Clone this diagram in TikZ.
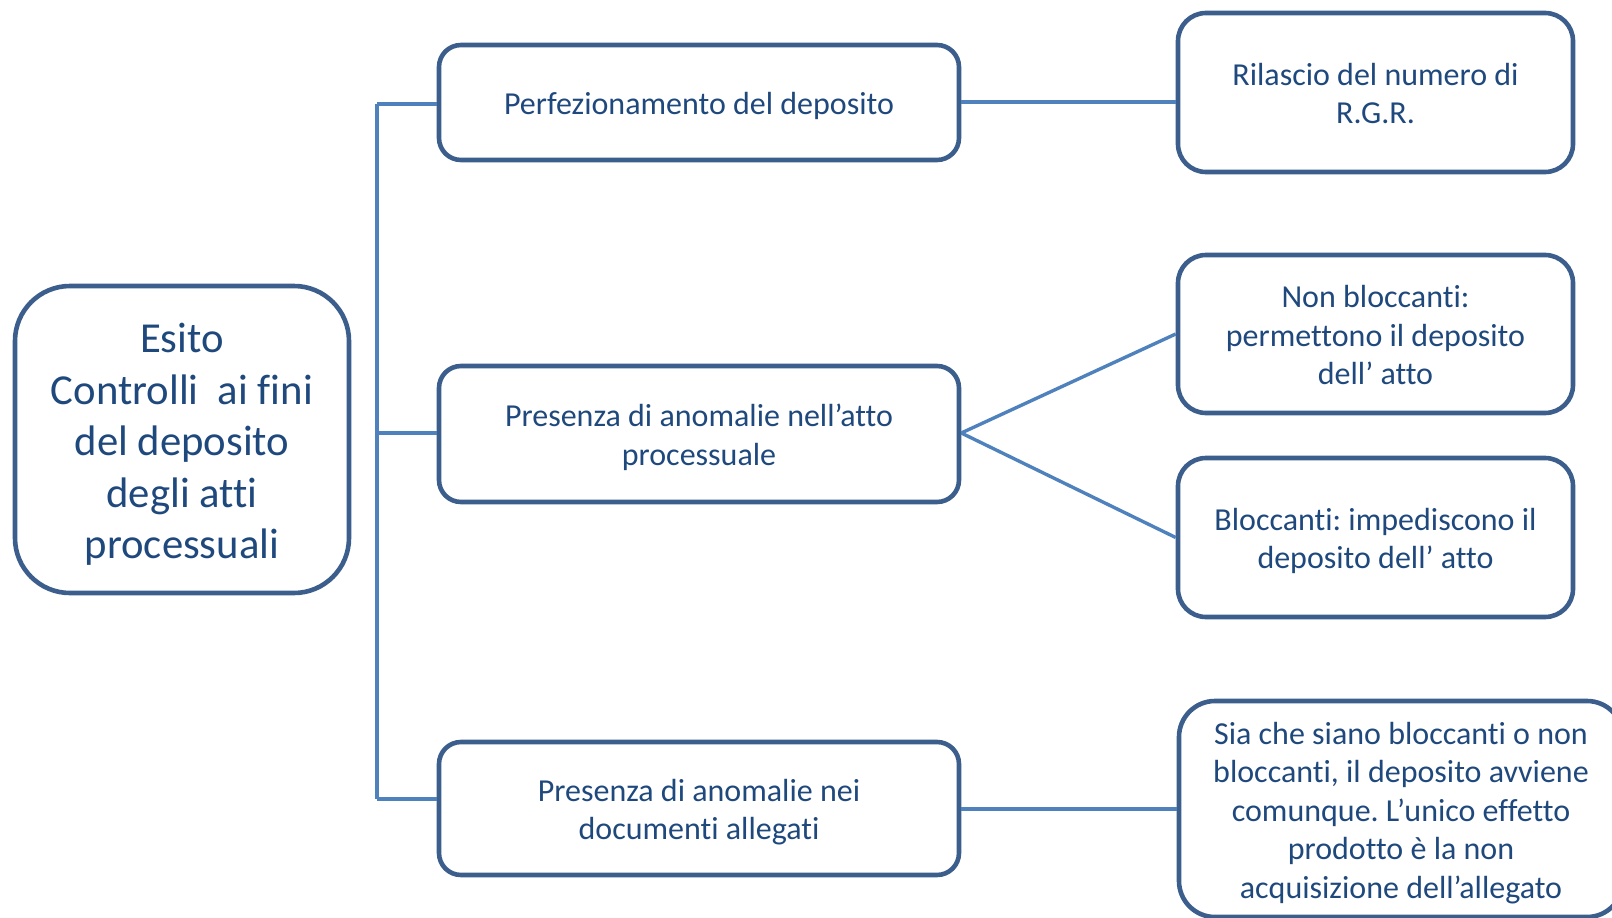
\documentclass[tikz,border=0pt]{standalone}
\usepackage{fontspec}
\setmainfont{Carlito}[Ligatures={NoCommon}]
\usetikzlibrary{calc}
\frenchspacing

\definecolor{boxline}{HTML}{3B5E8C}
\definecolor{linkline}{HTML}{4F81BD}
\definecolor{boxtext}{HTML}{1F497D}

% centred block of lines, each line with the same fixed height,
% set a little low in its box as slide text usually is
\newcommand{\boxlines}[1]{\raisebox{-0.14em}[\height][\depth]{\begin{tabular}{@{}c@{}}#1\end{tabular}}}

\tikzset{
  box/.style={draw=boxline, line width=4.6pt, fill=white, rounded corners=#1,
    text=boxtext, inner sep=0pt,
    font=\fontsize{32}{38.5}\selectfont},
  box/.default=22pt,
  link/.style={draw=linkline, line width=3.4pt}
}

\begin{document}
\begin{tikzpicture}[x=1pt, y=-1pt]
  \useasboundingbox (0,0) rectangle (1612,918);

  % root box
  \node[box=55pt, minimum width=334pt, minimum height=307pt,
        font=\fontsize{42.7}{51.5}\selectfont] (root) at (182,439.5)
    {\boxlines{Esito\\Controlli\ \ ai fini\\del deposito\\degli atti\\processuali}};

  % second level
  \node[box, minimum width=520pt, minimum height=115pt] (perf) at (699,102.5)
    {\boxlines{Perfezionamento del deposito}};
  \node[box, minimum width=520pt, minimum height=136pt] (anatto) at (699,434)
    {\boxlines{Presenza di anomalie nell’atto\\processuale}};
  \node[box, minimum width=520pt, minimum height=133pt] (analleg) at (699,808.5)
    {\boxlines{Presenza di anomalie nei\\documenti allegati}};

  % third level
  \node[box=28pt, minimum width=395pt, minimum height=159pt] (rgr) at (1375.5,92.5)
    {\boxlines{Rilascio del numero di\\R.G.R.}};
  \node[box=28pt, minimum width=395pt, minimum height=158pt] (nonbl) at (1375.5,334)
    {\boxlines{Non bloccanti:\\permettono il deposito\\dell’ atto}};
  \node[box=28pt, minimum width=395pt, minimum height=159pt] (bl) at (1375.5,537.5)
    {\boxlines{Bloccanti: impediscono il\\deposito dell’ atto}};
  \node[box=36pt, minimum width=444pt, minimum height=216pt] (eff) at (1401,809)
    {\boxlines{Sia che siano bloccanti o non\\bloccanti, il deposito avviene\\comunque. L’unico effetto\\prodotto è la non\\acquisizione dell’allegato}};

  % trunk of the tree
  \coordinate (ttop) at (377,104);
  \coordinate (tmid) at (377,433);
  \coordinate (tbot) at (377,799);

  % connectors
  \path[link] (ttop) -- (tbot);
  \path[link] (ttop) -- (ttop -| perf.west);
  \path[link] (tmid) -- (tmid -| anatto.west);
  \path[link] (tbot) -- (tbot -| analleg.west);

  \path[link] (perf.east |- 0,102) -- (rgr.west |- 0,102);
  \path[link] (anatto.east |- 0,433) -- (nonbl.west);
  \path[link] (anatto.east |- 0,433) -- (bl.west);
  \path[link] (analleg.east |- 0,809) -- (eff.west |- 0,809);
\end{tikzpicture}
\end{document}
